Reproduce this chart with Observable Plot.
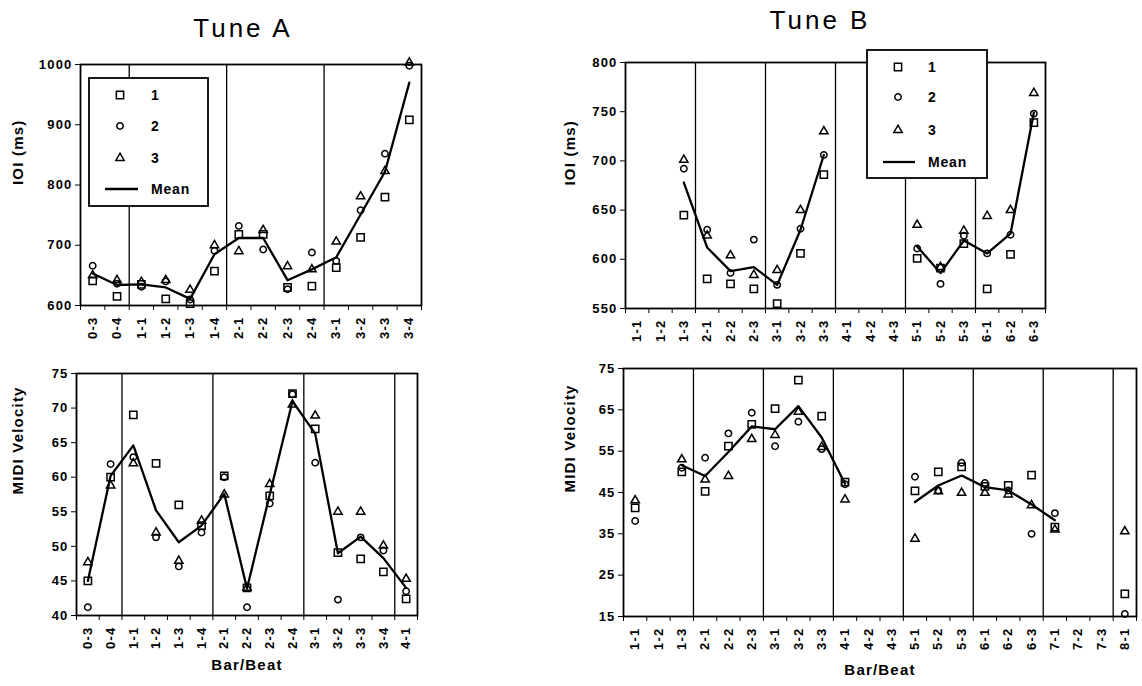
<!DOCTYPE html>
<html><head><meta charset="utf-8">
<script src="https://cdn.jsdelivr.net/npm/d3@7"></script>
<script src="https://cdn.jsdelivr.net/npm/@observablehq/plot@0.6"></script>
<style>
body{margin:0;background:#fff;}
#chart{position:relative;width:1142px;height:686px;overflow:hidden;font-family:"Liberation Sans",Arial,sans-serif;background:#fff;}
.panel{position:absolute;}
.panel svg{letter-spacing:1.2px;}
</style></head><body><div id="chart"></div>
<script>
// ---------- DATA ----------
const seriesNames = ["1", "2", "3"];
const meanName = "Mean";
const titles = ["Tune A", "Tune B"];

// Tune A – IOI
const catsAIoi = ["0-3","0-4","1-1","1-2","1-3","1-4","2-1","2-2","2-3","2-4","3-1","3-2","3-3","3-4"];
const aIoi1 = [641, 615, 635, 611, 603, 657, 718, 718, 630, 632, 663, 713, 780, 908];
const aIoi2 = [666, 636, 631, 640, 610, 691, 732, 693, 627, 688, 674, 758, 852, 998];
const aIoi3 = [650, 642, 639, 642, 626, 700, 690, 725, 665, 660, 706, 781, 823, 1003];
const aIoiMean = [653, 634, 635, 630, 611, 685, 712, 712, 642, 660, 680, 751, 822, 970];
const aIoiTicks = [600, 700, 800, 900, 1000];

// Tune A – MIDI velocity
const catsAVel = ["0-3","0-4","1-1","1-2","1-3","1-4","2-1","2-2","2-3","2-4","3-1","3-2","3-3","3-4","4-1"];
const aVel1 = [45, 60, 69, 62, 56, 53, 60.2, 44, 57.3, 72.1, 67, 49.1, 48.2, 46.3, 42.4];
const aVel2 = [41.2, 61.9, 62.9, 51.3, 47.1, 52, 60, 41.2, 56.2, 72, 62.1, 42.3, 51.3, 49.4, 43.5];
const aVel3 = [47.7, 58.8, 62, 52, 47.9, 53.7, 57.5, 44, 59, 70.5, 68.9, 55, 55, 50.1, 45.3];
const aVelMean = [45, 60.2, 64.6, 55.2, 50.6, 53, 57.6, 43.9, 57.5, 71, 66.3, 49, 51.4, 48.3, 44];
const aVelTicks = [40, 45, 50, 55, 60, 65, 70, 75];

// Tune B – IOI
const catsBIoi = ["1-1","1-2","1-3","2-1","2-2","2-3","3-1","3-2","3-3","4-1","4-2","4-3","5-1","5-2","5-3","6-1","6-2","6-3"];
const bIoi1 = [null, null, 645, 580, 575, 570, 555, 606, 686, null, null, null, 601, 591, 616, 570, 605, 739];
const bIoi2 = [null, null, 692, 630, 586, 620, 574, 631, 706, null, null, null, 611, 575, 624, 606, 625, 748];
const bIoi3 = [null, null, 701, 624, 604, 584, 589, 650, 730, null, null, null, 635, 592, 629, 644, 650, 769];
const bIoiMean = [null, null, 678, 612, 588, 592, 574, 630, 706, null, null, null, 613, 586, 619, 606, 626, 749];
const bIoiTicks = [550, 600, 650, 700, 750, 800];

// Tune B – MIDI velocity
const catsBVel = ["1-1","1-2","1-3","2-1","2-2","2-3","3-1","3-2","3-3","4-1","4-2","4-3","5-1","5-2","5-3","6-1","6-2","6-3","7-1","7-2","7-3","8-1"];
const bVel1 = [41.3, null, 50, 45.3, 56.2, 61.5, 65.3, 72.2, 63.5, 47.5, null, null, 45.4, 50, 51.2, 46.5, 46.7, 49.2, 36.6, null, null, 20.5];
const bVel2 = [38.1, null, 51, 53.4, 59.3, 64.3, 56.2, 62.1, 55.5, 47, null, null, 48.8, 45.5, 52.2, 47.3, 45.5, 35, 40, null, null, 15.6];
const bVel3 = [43.1, null, 53, 48.1, 49, 57.9, 58.9, 64.5, 56, 43.3, null, null, 33.8, 45.3, 44.9, 44.9, 44.5, 41.9, 36, null, null, 35.6];
const bVelMean = [null, null, 51.6, 49, 54.8, 61, 60.3, 65.9, 58.3, 47.1, null, null, 42.7, 46.7, 49.1, 46.3, 45.5, 42.1, 38.3, null, null, null];
const bVelTicks = [15, 25, 35, 45, 55, 65, 75];

const yLabelIoi = "IOI (ms)";
const yLabelVel = "MIDI Velocity";
const xLabel = "Bar/Beat";

// ---------- DRAW ----------
const chart = document.getElementById("chart");
const symbolRange = ["square", "circle", "triangle"];
const symbolR = [4.1, 3.2, 3.1];

function panel(o) {
  const n = o.cats.length;
  const rows = [];
  [o.s1, o.s2, o.s3].forEach((arr, k) => arr.forEach((v, i) => { if (v != null) rows.push({i, k: seriesNames[k], v}); }));
  const meanRows = o.mean.map((v, i) => ({i, v: v == null ? NaN : v}));
  const bars = o.cats.map((c, i) => i).filter(i => i > 0 && o.cats[i].endsWith("-1"));
  const marks = [
    Plot.ruleX(bars, {x: d => d, stroke: "black", strokeWidth: 1.3}),
    Plot.line(meanRows, {x: d => d.i + 0.5, y: "v", stroke: "black", strokeWidth: 2.3}),
    ...seriesNames.map((s, k) => Plot.dot(rows.filter(d => d.k === s), {x: d => d.i + 0.5, y: "v", symbol: "k", r: symbolR[k], stroke: "black", fill: "none", strokeWidth: 1.5})),
    Plot.axisY({ticks: o.yTicks, tickSize: 5, tickPadding: 3, label: null, tickFormat: d => String(d)}),
    Plot.axisX({ticks: d3.range(n + 1), tickSize: 5, tickFormat: () => "", label: null}),
    Plot.axisX({ticks: d3.range(n).map(i => i + 0.5), tickSize: 0, tickPadding: 11, tickRotate: -90, tickFormat: d => o.cats[Math.floor(d)], label: null}),
    Plot.frame({stroke: "black", strokeWidth: 1.8}),
    Plot.text([o.yLabel], {text: d => d, frameAnchor: "left", rotate: -90, dx: o.yDx, fontSize: 15})
  ];
  if (o.xLabel) marks.push(Plot.text([o.xLabel], {text: d => d, frameAnchor: "bottom", dy: o.xDy, fontSize: 15}));
  const p = Plot.plot({
    width: o.width, height: o.height,
    marginLeft: o.mL, marginRight: o.mR, marginTop: o.mT, marginBottom: o.mB,
    x: {domain: [0, n]},
    y: {domain: o.yDomain},
    symbol: {domain: seriesNames, range: symbolRange},
    style: {fontFamily: "Liberation Sans, Arial, sans-serif", fontSize: "13px", fontWeight: "bold", background: "transparent", overflow: "visible", color: "black"},
    marks
  });
  const div = document.createElement("div");
  div.className = "panel";
  div.style.left = o.left + "px";
  div.style.top = o.top + "px";
  div.appendChild(p);
  chart.appendChild(div);
}

panel({cats: catsAIoi, s1: aIoi1, s2: aIoi2, s3: aIoi3, mean: aIoiMean, yDomain: [600, 1000], yTicks: aIoiTicks,
  yLabel: yLabelIoi, yDx: -62, left: 0, top: 0, width: 441, height: 335, mL: 80, mR: 20, mT: 64, mB: 30});
panel({cats: catsAVel, s1: aVel1, s2: aVel2, s3: aVel3, mean: aVelMean, yDomain: [40, 75], yTicks: aVelTicks,
  yLabel: yLabelVel, yDx: -58, xLabel, xDy: 54, left: 0, top: 335, width: 437, height: 351, mL: 76, mR: 20, mT: 38, mB: 71});
panel({cats: catsBIoi, s1: bIoi1, s2: bIoi2, s3: bIoi3, mean: bIoiMean, yDomain: [550, 800], yTicks: bIoiTicks,
  yLabel: yLabelIoi, yDx: -55, left: 560, top: 0, width: 582, height: 335, mL: 65, mR: 97, mT: 62, mB: 27});
panel({cats: catsBVel, s1: bVel1, s2: bVel2, s3: bVel3, mean: bVelMean, yDomain: [15, 75], yTicks: bVelTicks,
  yLabel: yLabelVel, yDx: -53, xLabel, xDy: 58, left: 560, top: 335, width: 582, height: 351, mL: 63, mR: 6, mT: 33, mB: 70});

// ---------- OVERLAY: titles + legends ----------
const ov = d3.select("#chart").append("svg")
  .attr("width", 1142).attr("height", 686)
  .style("position", "absolute").style("left", 0).style("top", 0)
  .style("font-family", "Liberation Sans, Arial, sans-serif");

ov.append("text").attr("x", 243).attr("y", 37).attr("text-anchor", "middle")
  .attr("font-size", 26).attr("letter-spacing", 3).text(titles[0]);
ov.append("text").attr("x", 820).attr("y", 29).attr("text-anchor", "middle")
  .attr("font-size", 26).attr("letter-spacing", 3).text(titles[1]);

const symGen = [d3.symbolSquare, d3.symbolCircle, d3.symbolTriangle];
function legend(L) {
  const g = ov.append("g");
  g.append("rect").attr("x", L.x).attr("y", L.y).attr("width", L.w).attr("height", L.h)
    .attr("fill", "white").attr("stroke", "black").attr("stroke-width", 1.8);
  seriesNames.forEach((s, k) => {
    g.append("path").attr("d", d3.symbol(symGen[k], symbolR[k] * symbolR[k] * Math.PI)())
      .attr("transform", `translate(${L.symX},${L.rows[k]})`)
      .attr("fill", "none").attr("stroke", "black").attr("stroke-width", 1.5);
    g.append("text").attr("x", L.labX).attr("y", L.rows[k]).attr("dy", "0.35em")
      .attr("font-size", 14).attr("font-weight", "bold").text(s);
  });
  g.append("line").attr("x1", L.lx1).attr("x2", L.lx2).attr("y1", L.rows[3]).attr("y2", L.rows[3])
    .attr("stroke", "black").attr("stroke-width", 2.3);
  g.append("text").attr("x", L.labX).attr("y", L.rows[3]).attr("dy", "0.35em")
    .attr("font-size", 14).attr("font-weight", "bold").attr("letter-spacing", 0.8).text(meanName);
}
legend({x: 89, y: 78, w: 119, h: 128, symX: 120, labX: 151, rows: [95, 126, 158, 189], lx1: 105, lx2: 138});
legend({x: 867, y: 50, w: 120, h: 128, symX: 898, labX: 928, rows: [67, 97, 130, 162], lx1: 883, lx2: 915});
</script></body></html>
